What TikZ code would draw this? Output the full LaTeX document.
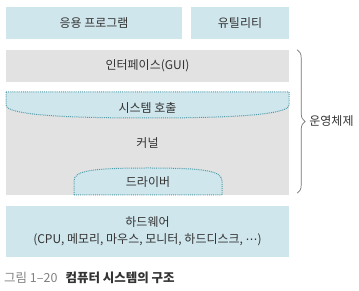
\documentclass[tikz,border=0pt]{standalone}
\usepackage{fontspec}
\setmainfont{Noto Sans CJK KR}
\newfontfamily\symfont{DejaVu Sans}
\usetikzlibrary{decorations.pathreplacing}
\definecolor{boxblue}{HTML}{CFE6EC}
\definecolor{boxgray}{HTML}{E2E2E2}
\definecolor{dotteal}{HTML}{4F9BA8}
\definecolor{txtgray}{HTML}{333333}
\begin{document}
\begin{tikzpicture}[x=1pt, y=1pt,
    bluebox/.style={rectangle, fill=boxblue, inner sep=0pt, text=txtgray, font=\fontsize{12}{17}\selectfont},
    graybox/.style={rectangle, fill=boxgray, inner sep=0pt, text=txtgray, font=\fontsize{12}{17}\selectfont},
    dotline/.style={draw=dotteal, line width=1pt, dash pattern=on 0.9pt off 1pt},
    plain/.style={text=txtgray, inner sep=0pt, font=\fontsize{12}{17}\selectfont}]
        \useasboundingbox (0,0) rectangle (359,291);
        
        % Application programs and utilities
        \node[bluebox, minimum width=176pt, minimum height=32pt] (app) at (94,268) {응용 프로그램};
        \node[bluebox, minimum width=98pt, minimum height=32pt] (util) at (240,268) {유틸리티};
        
        % Interface
        \node[graybox, minimum width=283pt, minimum height=32pt] (iface) at (147.5,225) {인터페이스(GUI)};
        
        % Kernel
        \node[graybox, minimum width=283pt, minimum height=103pt] (kernel) at (147.5,147.5) {};
        \fill[boxblue] (6,199) -- (289,199) -- (289,186) .. controls (289,176) and (230,173) .. (147.5,173) .. controls (65,173) and (6,176) .. (6,186) -- cycle;
        \draw[dotline] (6,199) -- (289,199) -- (289,186) .. controls (289,176) and (230,173) .. (147.5,173) .. controls (65,173) and (6,176) .. (6,186) -- cycle;
        \node[plain] (syscall) at (147.5,183) {시스템 호출};
        \node[plain] (kerneltext) at (147.5,148) {커널};
        
        % Driver
        \fill[boxblue] (74,96) -- (74,110) .. controls (74,120) and (90,123) .. (148,123) .. controls (206,123) and (222,120) .. (222,110) -- (222,96) -- cycle;
        \draw[dotline] (74,96) -- (74,110) .. controls (74,120) and (90,123) .. (148,123) .. controls (206,123) and (222,120) .. (222,110) -- (222,96) -- cycle;
        \node[plain] (driver) at (148,109) {드라이버};
        
        % Hardware
        \node[bluebox, minimum width=283pt, minimum height=51pt, align=center] (hw) at (147.5,59.5) {하드웨어\\(CPU, 메모리, 마우스, 모니터, 하드디스크, {\symfont ⋯})};
        
        % Operating system brace
        \coordinate (bracetop) at ([xshift=8pt]iface.north east);
        \coordinate (bracebot) at ([xshift=8pt, yshift=2pt]kernel.south east);
        \draw[black!55, line width=0.7pt, decorate, decoration={brace, amplitude=8pt}] (bracetop) -- (bracebot) coordinate[midway, xshift=12pt] (bracetip);
        \node[plain, anchor=west] (os) at (bracetip) {운영체제};
        
        % Caption
        \node[anchor=west, inner sep=0pt, font=\fontsize{12.5}{14}\selectfont] (caption) at (4,13) {\textcolor{gray}{그림 1–20}\hspace{8pt}\textbf{\textcolor{txtgray}{컴퓨터 시스템의 구조}}};
    \end{tikzpicture}
\end{document}
